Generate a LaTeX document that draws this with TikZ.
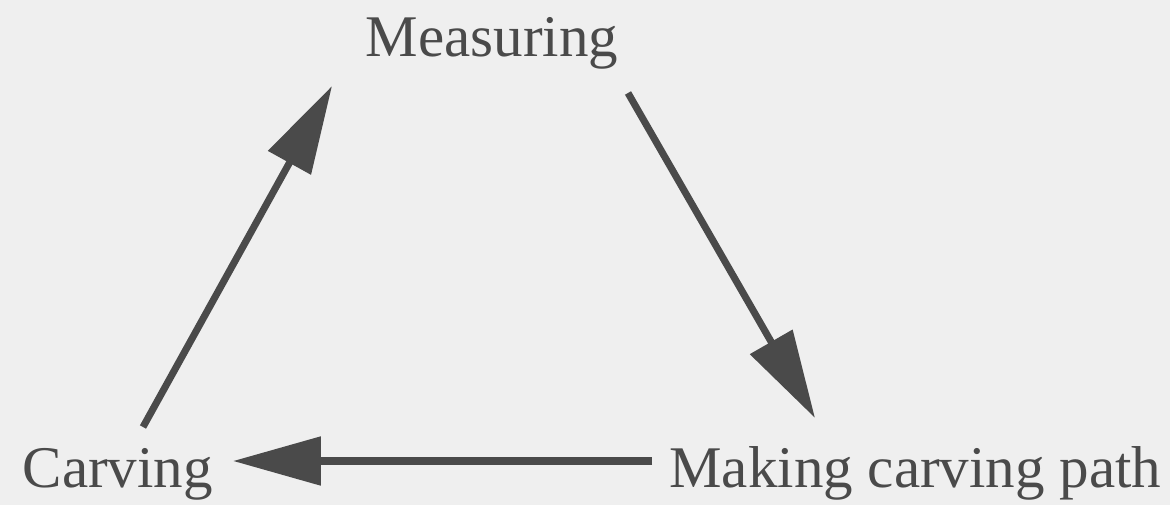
\documentclass[tikz,border=0pt]{standalone}
\usepackage{fontspec}
\setmainfont{Liberation Serif}
\usetikzlibrary{arrows.meta}
\definecolor{paper}{HTML}{EFEFEF}
\definecolor{ink}{HTML}{4A4A4A}
\begin{document}
\begin{tikzpicture}[
    label/.style={inner sep=0pt, text=ink, font=\fontsize{16.8}{20}\selectfont},
    flow/.style={line width=2pt, draw=ink, -{Triangle[length=25pt, width=13.5pt, fill=ink]}}]
  \fill[paper] (0, 0) rectangle (11.7, 5.05);
  \useasboundingbox (0, 0) rectangle (11.7, 5.05);
  \node[label, anchor=base] (meas) at (4.92, 4.48) {Measuring};
  \node[label, anchor=base west] (carv) at (0.22, 0.18) {Carving};
  \node[label, anchor=base east] (path) at (11.62, 0.18) {Making carving path};
  % arrow ends
  \coordinate (carv-out) at (1.43, 0.78);
  \coordinate (meas-in) at (3.32, 4.19);
  \coordinate (meas-out) at (6.28, 4.12);
  \coordinate (path-in) at (8.15, 0.87);
  \coordinate (path-out) at (6.52, 0.44);
  \coordinate (carv-in) at (2.33, 0.44);
  \draw[flow] (carv-out) -- (meas-in);
  \draw[flow] (meas-out) -- (path-in);
  \draw[flow] (path-out) -- (carv-in);
\end{tikzpicture}
\end{document}
